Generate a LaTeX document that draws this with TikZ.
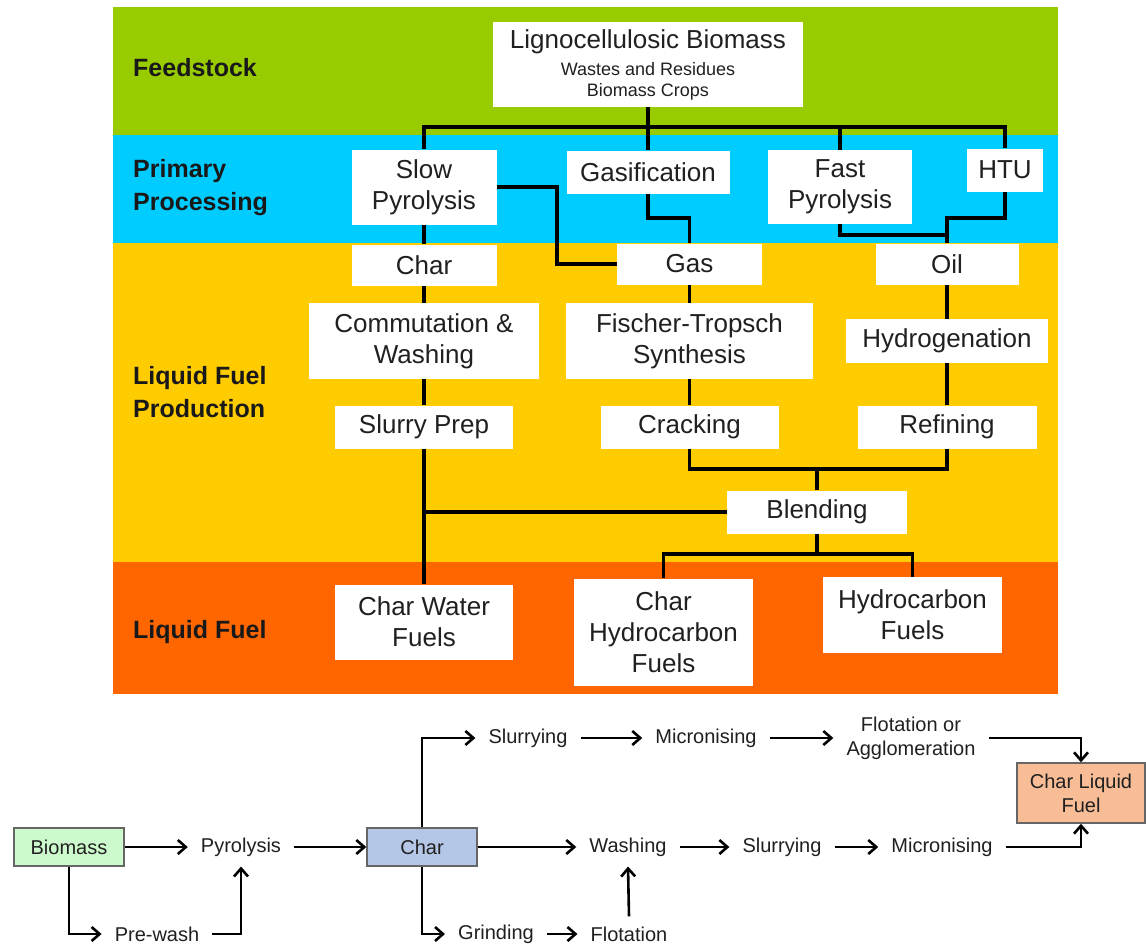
\documentclass[tikz,border=0pt]{standalone}
\usepackage{fontspec}
\setmainfont{Liberation Sans}
\usepackage{xcolor}
\definecolor{feedGreen}{RGB}{153,204,0}
\definecolor{primBlue}{RGB}{0,204,255}
\definecolor{prodYellow}{RGB}{255,204,0}
\definecolor{fuelOrange}{RGB}{255,102,0}
\definecolor{bioGreen}{RGB}{204,250,204}
\definecolor{charBlue}{RGB}{180,199,231}
\definecolor{liqSalmon}{RGB}{248,189,150}
\definecolor{txtGray}{RGB}{32,32,32}
\usetikzlibrary{arrows.meta}

\begin{document}
\begin{tikzpicture}[x=1pt,y=-1pt,
		wbox/.style={fill=white, inner sep=0pt, align=center, text=txtGray, font=\fontsize{26}{31}\selectfont},
		band/.style={anchor=west, align=left, inner sep=0pt, text=black!90, font=\bfseries\fontsize{25}{33}\selectfont},
		link/.style={line width=3.6pt},
		ptext/.style={inner xsep=13pt, inner ysep=10pt, align=center, text=txtGray, font=\fontsize{20}{24}\selectfont},
		pbox/.style={ptext, draw=black!60, line width=1.4pt, inner sep=0pt},
		arr/.style={line width=2.6pt, -{Straight Barb[length=8pt,width=14pt]}}]
			\useasboundingbox (0,0) rectangle (1146,946);
			\fill[white] (0,0) rectangle (1146,946);

			% Coloured bands
			\foreach \c/\ya/\yb in {feedGreen/7/135, primBlue/135/243, prodYellow/243/562, fuelOrange/562/694}
			\fill[\c] (113,\ya) rectangle (1058,\yb);

			% Labels for bands
			\node[band] (lFeed) at (133,68) {Feedstock};
			\node[band] (lPrim) at (133,188) {Primary\\Processing};
			\node[band] (lProd) at (133,392) {Liquid Fuel\\Production};
			\node[band] (lFuel) at (133,632) {Liquid Fuel};

			% Feedstock and primary processing
			\node[wbox, minimum width=310, minimum height=85, font=\fontsize{18}{21}\selectfont] (ligno) at (648,64.5) {{\fontsize{26}{31}\selectfont Lignocellulosic Biomass}\\[6pt]Wastes and Residues\\Biomass Crops};
			\node[wbox, minimum width=145, minimum height=75] (slow) at (424,187) {Slow\\Pyrolysis};
			\node[wbox, minimum width=163, minimum height=43] (gasif) at (648,172) {Gasification};
			\node[wbox, minimum width=144, minimum height=74] (fast) at (840,187) {Fast\\Pyrolysis};
			\node[wbox, minimum width=76, minimum height=43] (htu) at (1005,170) {HTU};

			% Liquid fuel production
			\node[wbox, minimum width=145, minimum height=41] (char) at (424,265) {Char};
			\node[wbox, minimum width=145, minimum height=41] (gas) at (689.5,264) {Gas};
			\node[wbox, minimum width=143, minimum height=41] (oil) at (947,264) {Oil};
			\node[wbox, minimum width=230, minimum height=76] (comm) at (424,341) {Commutation \&\\Washing};
			\node[wbox, minimum width=247, minimum height=76] (ft) at (689.5,341) {Fischer-Tropsch\\Synthesis};
			\node[wbox, minimum width=202, minimum height=44] (hydro) at (947,341) {Hydrogenation};
			\node[wbox, minimum width=178, minimum height=43] (slurry) at (424,427) {Slurry Prep};
			\node[wbox, minimum width=178, minimum height=43] (crack) at (689.5,427) {Cracking};
			\node[wbox, minimum width=179, minimum height=43] (refin) at (947,427) {Refining};
			\node[wbox, minimum width=180, minimum height=43] (blend) at (817,512) {Blending};

			% Liquid fuels
			\node[wbox, minimum width=178, minimum height=75] (cwf) at (424,622) {Char Water\\Fuels};
			\node[wbox, minimum width=179, minimum height=107] (chf) at (663.5,632) {Char\\Hydrocarbon\\Fuels};
			\node[wbox, minimum width=179, minimum height=76] (hcf) at (912.5,615) {Hydrocarbon\\Fuels};

			% Draw links
			\coordinate (feedbus) at (648,127);
			\coordinate (sg) at (557,264);
			\draw[link] (ligno.south) -- (gasif.north);
			\draw[link] (slow.north) |- (feedbus) -| (htu.north);
			\draw[link] (fast.north) -- (fast.north |- feedbus);
			\draw[link] (slow.east) -| (sg) -- (gas.west);
			\draw[link] (gasif.south) -- ++(0,24) -| (gas.north);
			\draw[link] (fast.south) -- ++(0,11) -| (oil.north);
			\draw[link] (htu.south) -- ++(0,26) -| (oil.north);
			\foreach \a/\b in {slow/char, char/comm, comm/slurry, slurry/cwf, gas/ft, ft/crack, oil/hydro, hydro/refin}
			\draw[link] (\a.south) -- (\b.north);
			\draw[link] (crack.south) -- ++(0,20) -| (blend.north);
			\draw[link] (refin.south) -- ++(0,20) -| (blend.north);
			\draw[link] (blend.west) -- (blend.west -| slurry.south);
			\draw[link] (blend.south) -- ++(0,20) -| (chf.north);
			\draw[link] (blend.south) -- ++(0,20) -| (hcf.north);

			% Char liquid fuel route
			\node[pbox, fill=bioGreen, minimum width=110, minimum height=38] (bioBox) at (69,847) {Biomass};
			\node[ptext] (pyro) at (241,847) {Pyrolysis};
			\node[ptext] (prewash) at (157,934) {Pre-wash};
			\node[pbox, fill=charBlue, minimum width=110, minimum height=38] (charBox) at (422,847) {Char};
			\node[ptext] (slurA) at (528,738) {Slurrying};
			\node[ptext] (microA) at (706,738) {Micronising};
			\node[ptext] (flotA) at (911,738) {Flotation or\\Agglomeration};
			\node[ptext] (wash) at (628,847) {Washing};
			\node[ptext] (slurB) at (782,847) {Slurrying};
			\node[ptext] (microB) at (942,847) {Micronising};
			\node[ptext] (grind) at (496,934) {Grinding};
			\node[ptext] (flotB) at (629,934) {Flotation};
			\node[pbox, fill=liqSalmon, minimum width=128, minimum height=60] (clf) at (1081,793) {Char Liquid\\Fuel};

			% Draw arrows
			\foreach \a/\b in {bioBox/pyro, pyro/charBox, charBox/wash, wash/slurB, slurB/microB, slurA/microA, microA/flotA, grind/flotB}
			\draw[arr] (\a) -- (\b);
			\draw[arr] (bioBox.south) |- (prewash.west);
			\draw[arr] (prewash.east) -| (pyro.south);
			\draw[arr] (charBox.north) |- (slurA.west);
			\draw[arr] (charBox.south) |- (grind.west);
			\draw[arr] (flotB.north) -- (wash.south);
			\draw[arr] (flotA.east) -| (clf.north);
			\draw[arr] (microB.east) -| (clf.south);
		\end{tikzpicture}
\end{document}
